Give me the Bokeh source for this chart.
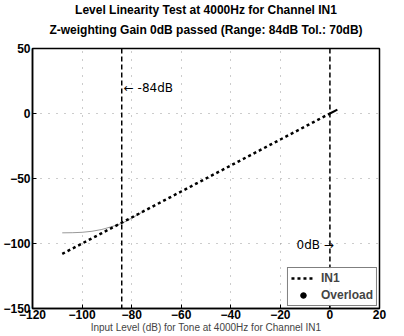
from bokeh.plotting import figure
from bokeh.models import Span, Label, Legend, LegendItem, Title
from bokeh.embed import file_html
from bokeh.resources import INLINE

# ---- data ----
in_levels = [-108, -104, -100, -96, -92, -88, -84, -80, -76, -72, -68, -64, -60, -56,
             -52, -48, -44, -40, -36, -32, -28, -24, -20, -16, -12, -8, -4, 0]
in1_out = [-108, -104, -100, -96, -92, -88, -84, -80, -76, -72, -68, -64, -60, -56,
           -52, -48, -44, -40, -36, -32, -28, -24, -20, -16, -12, -8, -4, 0]
end_x = [0, 3]
end_y = [0, 3]
floor_x = [-108, -104, -100, -96, -92, -88, -84, -80, -76]
floor_y = [-91.8, -91.7, -91.4, -90.6, -89.2, -87.0, -84.6, -80.5, -76.2]
overload_x = [float("nan")]
overload_y = [float("nan")]
marker_levels = [-84, 0]
marker_texts = ["\u2190  -84dB", "0dB \u2192"]
x_ticks = [-120, -100, -80, -60, -40, -20, 0, 20]
y_ticks = [-150, -100, -50, 0, 50]
title_lines = ["Level Linearity Test at 4000Hz for Channel IN1",
               "Z-weighting Gain 0dB passed (Range: 84dB Tol.: 70dB)"]

FONT = "Liberation Sans"

p = figure(width=392, height=336, x_range=(-120, 20), y_range=(-150, 50),
           output_backend="svg", toolbar_location=None,
           min_border_left=30, min_border_right=13, min_border_top=45, min_border_bottom=28)

p.title.text = title_lines[0]
t2 = Title(text=title_lines[1])
for t in (p.title, t2):
    t.align = "center"
    t.text_font = FONT
    t.text_font_size = "12px"
    t.text_font_style = "bold"
    t.text_color = "black"
    t.text_line_height = 1.0
    t.standoff = 0
    t.offset = 0
t2.standoff = 8
spacer = Title(text=" ", text_font_size="6px", standoff=0, offset=0)
p.add_layout(spacer, "above")
p.add_layout(t2, "above")

p.outline_line_color = "black"
p.outline_line_width = 1.5
p.background_fill_color = "white"
p.border_fill_color = "white"

for ax in (p.xaxis, p.yaxis):
    ax.major_tick_in = 4
    ax.major_tick_out = 0
    ax.minor_tick_line_color = None
    ax.axis_line_color = "black"
    ax.axis_line_width = 1.5
    ax.major_label_text_font = FONT
    ax.major_label_text_font_size = "12px"
    ax.major_label_text_font_style = "bold"
    ax.major_label_text_color = "black"
p.xaxis.ticker = x_ticks
p.yaxis.ticker = y_ticks
p.xaxis.major_label_standoff = 1
p.yaxis.major_label_standoff = 2
p.xaxis.axis_label = "Input Level (dB) for Tone at 4000Hz for Channel IN1"
p.xaxis.axis_label_text_font = FONT
p.xaxis.axis_label_text_font_size = "10px"
p.xaxis.axis_label_text_font_style = "normal"
p.xaxis.axis_label_standoff = 0

p.grid.grid_line_color = "#999999"
p.grid.grid_line_dash = "1 7"
p.grid.grid_line_width = 1

for lv in marker_levels:
    p.add_layout(Span(location=lv, dimension="height", line_color="black",
                      line_dash="5 3", line_width=1.5))

p.line(floor_x, floor_y, line_color="#999999", line_width=1)
r_in1 = p.line(in_levels, in1_out, line_color="black", line_width=2.5, line_dash="3 3")
p.line(end_x, end_y, line_color="black", line_width=2)
r_ov = p.scatter(overload_x, overload_y, size=3, color="black")

p.add_layout(Label(x=marker_levels[0] + 0.8, y=20, text=marker_texts[0],
                   text_font="DejaVu Sans", text_font_size="12px", text_baseline="middle",
                   text_align="left", text_color="black"))
p.add_layout(Label(x=marker_levels[1] + 1.6, y=-101, text=marker_texts[1],
                   text_font="DejaVu Sans", text_font_size="12px", text_baseline="middle",
                   text_align="right", text_color="black"))

legend = Legend(items=[LegendItem(label="IN1", renderers=[r_in1]),
                       LegendItem(label="Overload", renderers=[r_ov])],
                location="bottom_right")
legend.label_text_font = FONT
legend.label_text_font_size = "12px"
legend.label_text_font_style = "bold"
legend.border_line_color = "black"
legend.border_line_width = 1.5
legend.glyph_width = 24
legend.glyph_height = 14
legend.label_height = 14
legend.spacing = 3
legend.padding = 3
legend.margin = 2
legend.label_standoff = 6
p.add_layout(legend)

open("out.html", "w").write(file_html(p, INLINE))
